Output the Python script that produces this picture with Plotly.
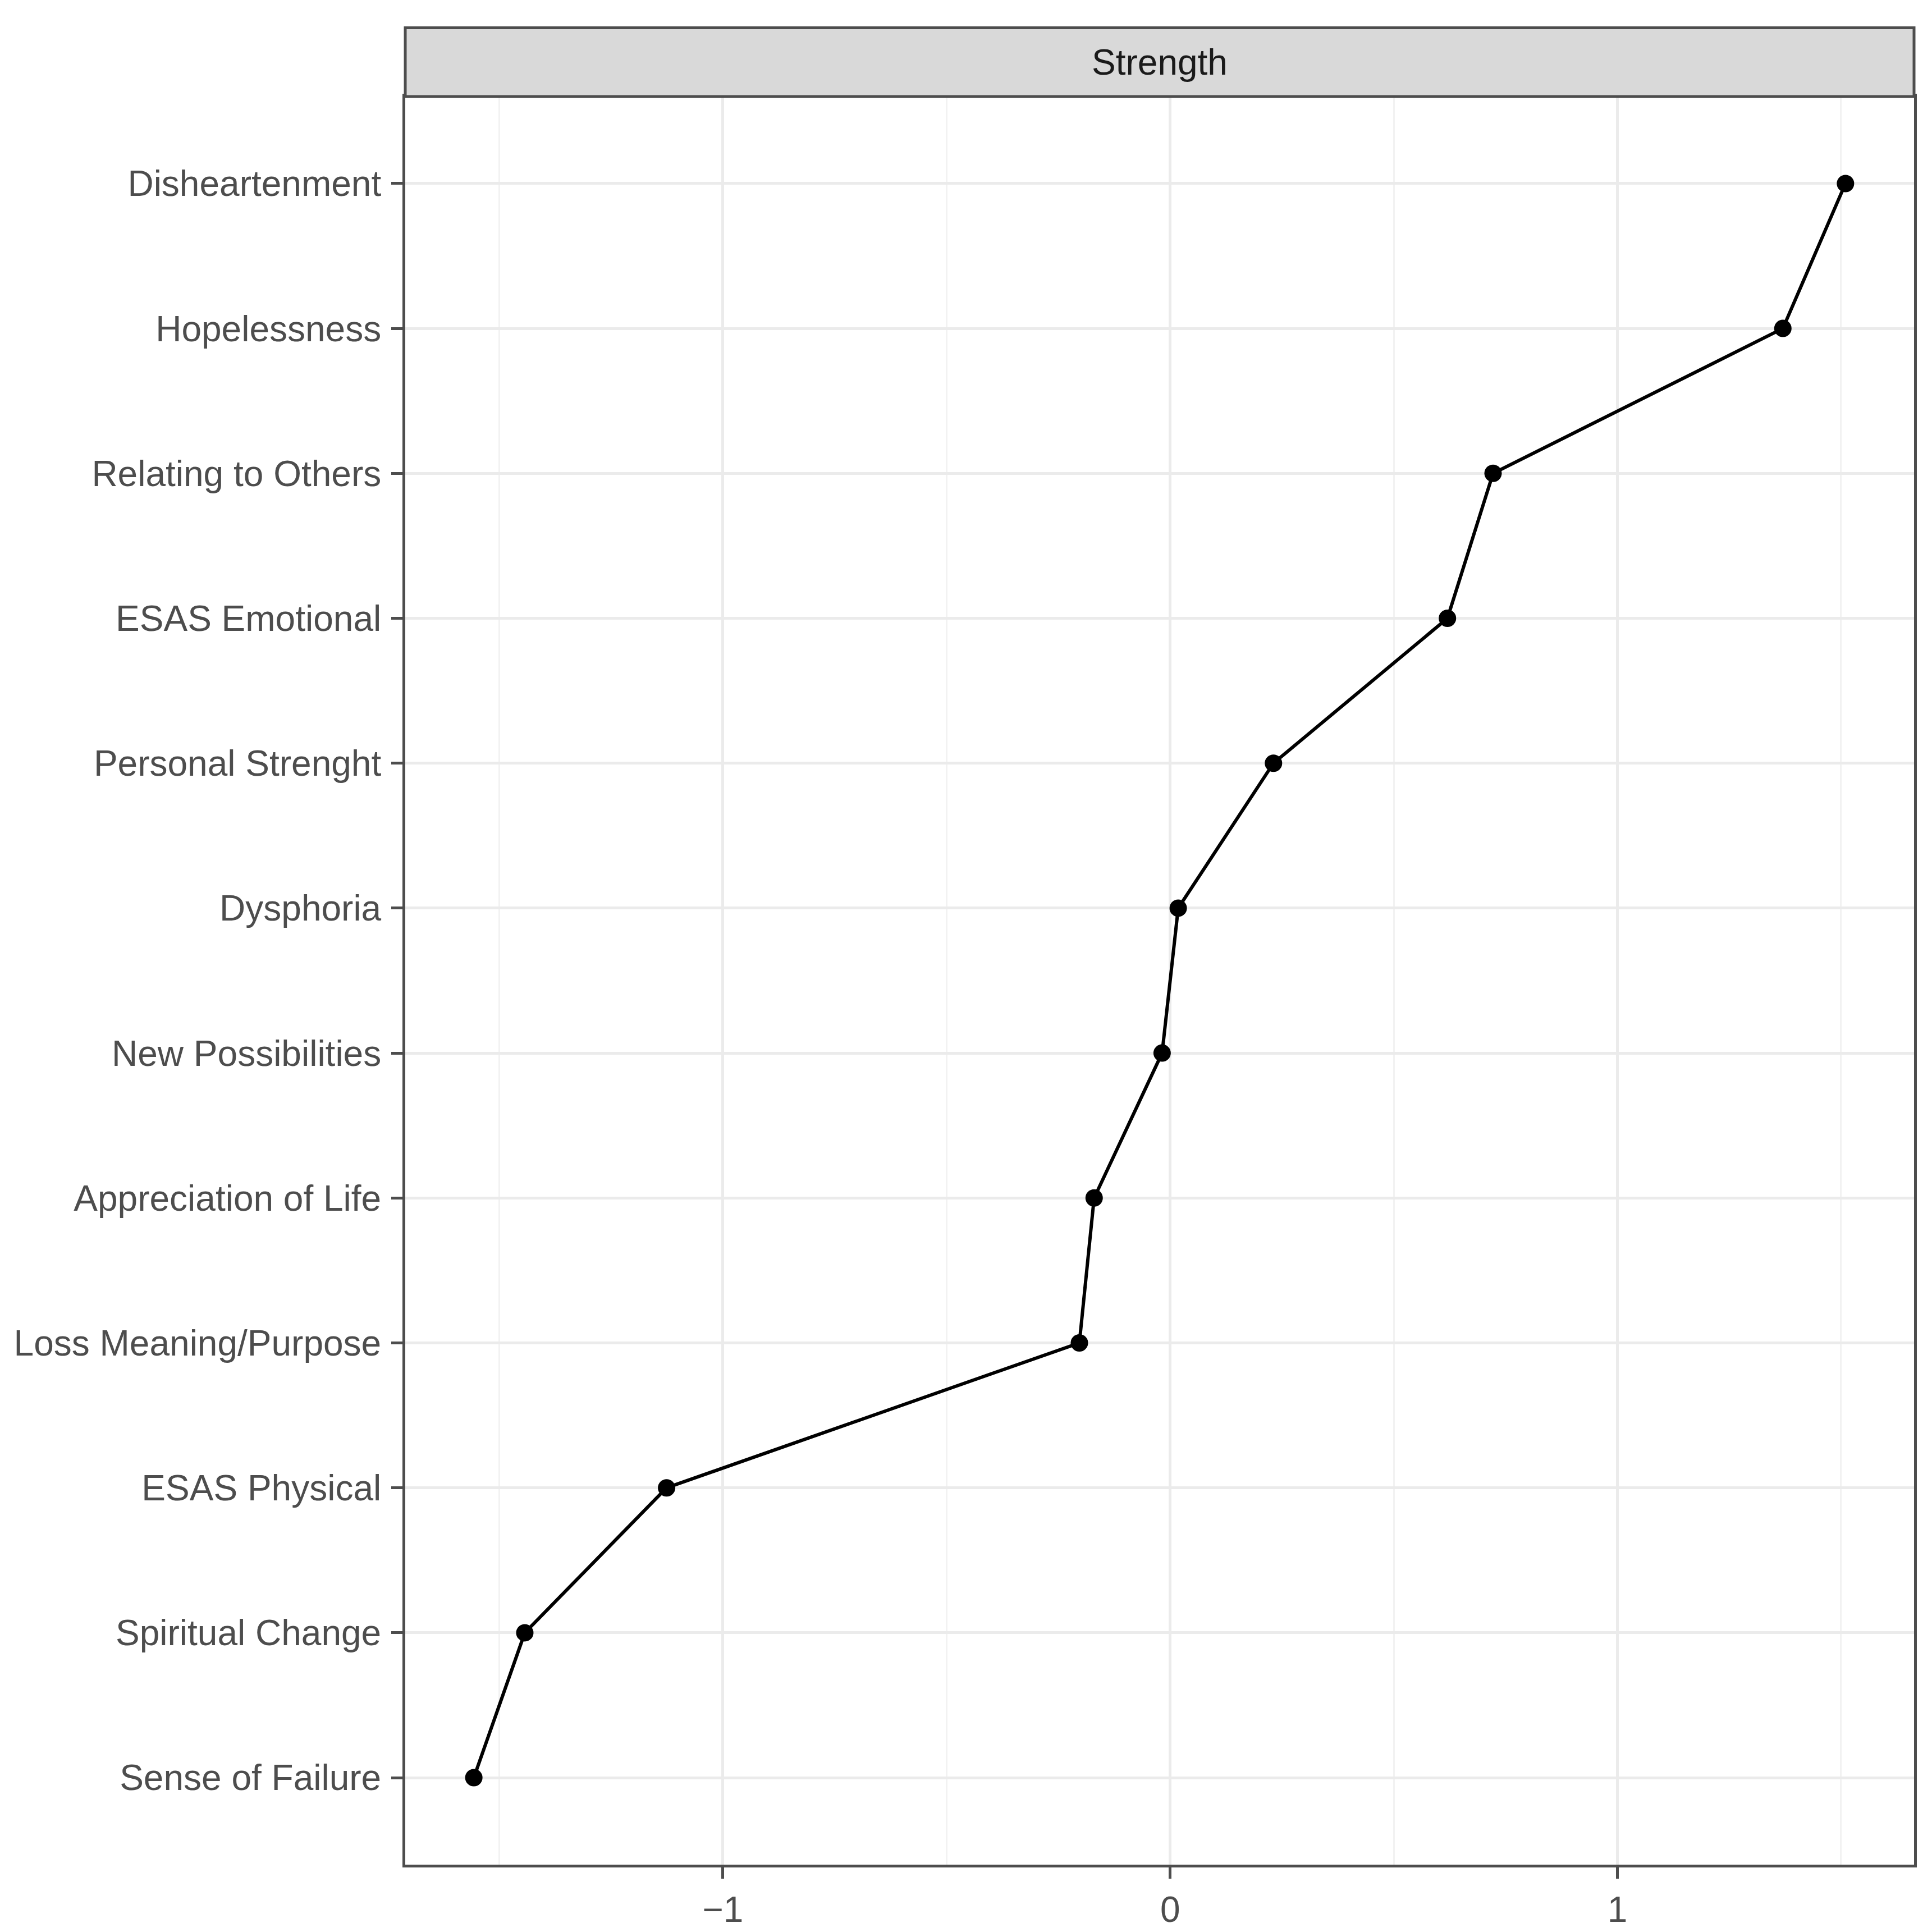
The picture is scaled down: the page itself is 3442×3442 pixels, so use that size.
import plotly.graph_objects as go

# Data (top to bottom as displayed)
categories = [
    "Disheartenment",
    "Hopelessness",
    "Relating to Others",
    "ESAS Emotional",
    "Personal Strenght",
    "Dysphoria",
    "New Possibilities",
    "Appreciation of Life",
    "Loss Meaning/Purpose",
    "ESAS Physical",
    "Spiritual Change",
    "Sense of Failure",
]
strength = [1.510, 1.370, 0.722, 0.620, 0.231, 0.018, -0.018, -0.170, -0.203, -1.126, -1.443, -1.557]

x_ticks = [-1, 0, 1]
x_tick_labels = ["\u22121", "0", "1"]
x_minor = [-1.5, -0.5, 0.5, 1.5]
panel_title = "Strength"

W = H = 3442
m_left, m_right, m_top, m_bottom = 714, 40, 164, 118
panel_h = H - m_top - m_bottom
strip_h = 123

FONT = "Liberation Sans, Arial, Helvetica, sans-serif"

fig = go.Figure()
fig.add_trace(go.Scatter(
    x=strength, y=categories, mode="lines+markers",
    line=dict(color="black", width=6),
    marker=dict(color="black", size=31),
    showlegend=False,
))

n = len(categories)
fig.update_layout(
    width=W, height=H,
    margin=dict(l=m_left, r=m_right, t=m_top, b=m_bottom, pad=0),
    paper_bgcolor="white", plot_bgcolor="white",
    font=dict(family=FONT, size=64, color="#4D4D4D"),
    xaxis=dict(
        range=[-1.7103, 1.6633],
        tickvals=x_ticks, ticktext=x_tick_labels,
        showgrid=True, gridcolor="#EBEBEB", gridwidth=5,
        minor=dict(tickvals=x_minor, showgrid=True, gridcolor="#F2F2F2", gridwidth=3, ticks=""),
        zeroline=False,
        showline=True, linecolor="#4D4D4D", linewidth=5, mirror=True,
        ticks="outside", ticklen=20, tickwidth=5, tickcolor="#4D4D4D",
        tickfont=dict(family=FONT, size=64, color="#4D4D4D"),
    ),
    yaxis=dict(
        type="category", categoryorder="array", categoryarray=categories,
        range=[n - 1 + 0.6, -0.6],
        showgrid=True, gridcolor="#EBEBEB", gridwidth=5,
        zeroline=False,
        showline=True, linecolor="#4D4D4D", linewidth=5, mirror=True,
        ticks="outside", ticklen=20, tickwidth=5, tickcolor="#4D4D4D",
        ticklabelstandoff=5,
        tickfont=dict(family=FONT, size=64, color="#4D4D4D"),
    ),
)

# facet strip
strip_frac = strip_h / panel_h
fig.add_shape(type="rect", xref="paper", yref="paper",
              x0=0, x1=1, y0=1, y1=1 + strip_frac,
              fillcolor="#D9D9D9", line=dict(color="#4D4D4D", width=5), layer="above")
fig.add_annotation(xref="paper", yref="paper", x=0.5, y=1 + strip_frac / 2,
                   text=panel_title, showarrow=False, xanchor="center", yanchor="middle",
                   font=dict(family=FONT, size=64, color="#1A1A1A"))

fig.write_html("out.html")
